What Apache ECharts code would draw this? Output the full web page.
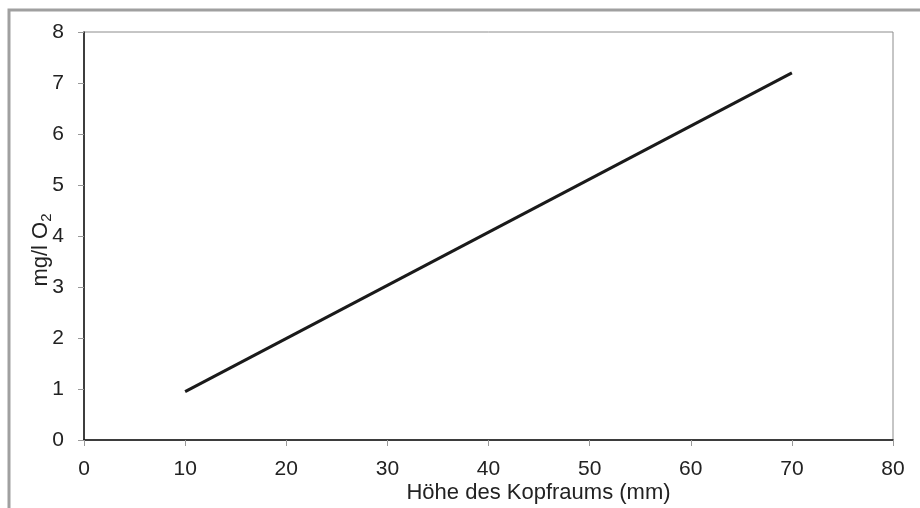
<!DOCTYPE html>
<html>
<head>
<meta charset="utf-8">
<script src="https://cdn.jsdelivr.net/npm/echarts@6/dist/echarts.min.js"></script>
<style>html,body{margin:0;padding:0;background:#fff}#c{width:920px;height:508px}</style>
</head>
<body>
<div id="c"></div>
<script>
const xValues = [10, 70];
const yValues = [0.95, 7.2];
const xTicks = [0, 10, 20, 30, 40, 50, 60, 70, 80];
const yTicks = [0, 1, 2, 3, 4, 5, 6, 7, 8];
const xTitle = 'Höhe des Kopfraums (mm)';
const yTitleMain = 'mg/l O';
const yTitleSub = '2';

const chart = echarts.init(document.getElementById('c'), null, {renderer: 'canvas'});
const font = 'Liberation Sans, Arial, sans-serif';
chart.setOption({
  animation: false,
  backgroundColor: '#fff',
  graphic: [{
    type: 'rect', shape: {x: 9, y: 10, width: 930, height: 520},
    style: {fill: 'none', stroke: '#a0a0a0', lineWidth: 3}, silent: true, z: 0
  }],
  grid: {left: 84, top: 32, right: 27, bottom: 68, containLabel: false, outerBoundsMode: 'none',
    show: true, borderColor: '#8c8c8c', borderWidth: 1, backgroundColor: '#fff'},
  xAxis: {
    type: 'value', min: xTicks[0], max: xTicks[xTicks.length - 1], interval: 10,
    name: xTitle, nameLocation: 'middle', nameGap: 42, nameMoveOverlap: false,
    nameTextStyle: {fontFamily: font, fontSize: 22, color: '#222', padding: [0, 0, 0, 100]},
    axisLine: {show: true, onZero: false, lineStyle: {color: '#111', width: 1.5}},
    axisTick: {show: true, length: 6, lineStyle: {color: '#999'}},
    axisLabel: {fontFamily: font, fontSize: 21, color: '#222', margin: 19},
    splitLine: {show: false}
  },
  yAxis: {
    type: 'value', min: yTicks[0], max: yTicks[yTicks.length - 1], interval: 1,
    name: '{a|' + yTitleMain + '}{b|' + yTitleSub + '}', nameLocation: 'middle', nameRotate: 90, nameGap: 30, nameMoveOverlap: false,
    nameTextStyle: {
      fontFamily: font, fontSize: 22, color: '#222', padding: [0, 28, 0, 0],
      rich: {a: {fontFamily: font, fontSize: 22, color: '#222'}, b: {fontFamily: font, fontSize: 15, color: '#222', padding: [12, 0, 0, 0]}}
    },
    axisLine: {show: true, onZero: false, lineStyle: {color: '#111', width: 1.5}},
    axisTick: {show: true, length: 6, lineStyle: {color: '#999'}},
    axisLabel: {fontFamily: font, fontSize: 21, color: '#222', margin: 20},
    splitLine: {show: false}
  },
  series: [{
    type: 'line',
    data: xValues.map((x, i) => [x, yValues[i]]),
    symbol: 'none',
    lineStyle: {color: '#1a1a1a', width: 3}
  }]
});
</script>
</body>
</html>
